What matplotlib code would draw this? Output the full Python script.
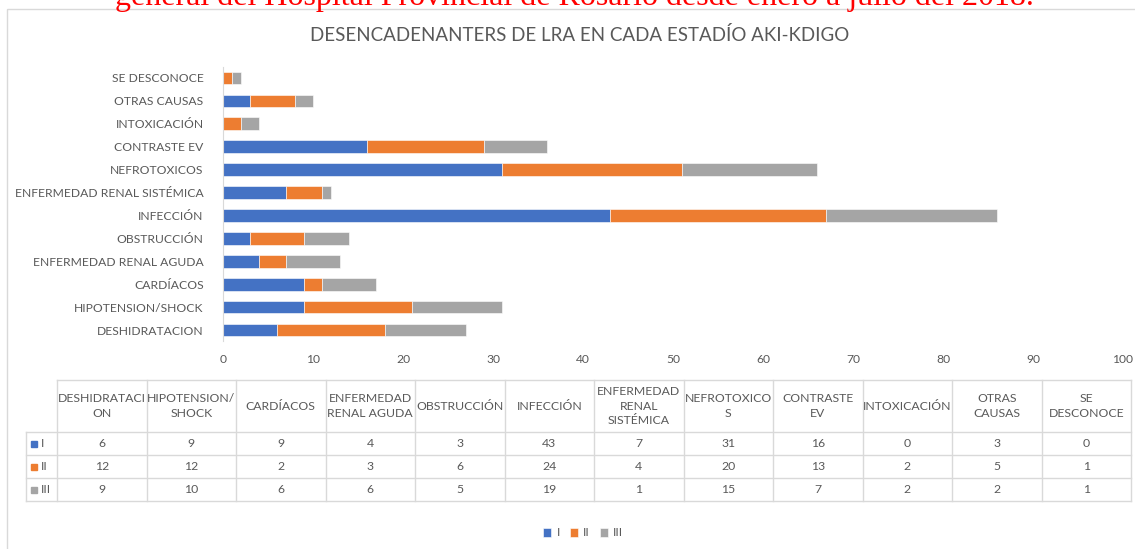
import numpy as np
import matplotlib.pyplot as plt

categories = ["DESHIDRATACION", "HIPOTENSION/SHOCK", "CARDÍACOS", "ENFERMEDAD RENAL AGUDA",
              "OBSTRUCCIÓN", "INFECCIÓN", "ENFERMEDAD RENAL SISTÉMICA", "NEFROTOXICOS",
              "CONTRASTE EV", "INTOXICACIÓN", "OTRAS CAUSAS", "SE DESCONOCE"]
tableHeaders = ["DESHIDRATACI\nON", "HIPOTENSION/\nSHOCK", "CARDÍACOS", "ENFERMEDAD\nRENAL AGUDA",
                "OBSTRUCCIÓN", "INFECCIÓN", "ENFERMEDAD\nRENAL\nSISTÉMICA", "NEFROTOXICO\nS",
                "CONTRASTE\nEV", "INTOXICACIÓN", "OTRAS\nCAUSAS", "SE\nDESCONOCE"]
stageNames = ["I", "II", "III"]
stageI = [6, 9, 9, 4, 3, 43, 7, 31, 16, 0, 3, 0]
stageII = [12, 12, 2, 3, 6, 24, 4, 20, 13, 2, 5, 1]
stageIII = [9, 10, 6, 6, 5, 19, 1, 15, 7, 2, 2, 1]
stageColors = ["#4472C4", "#ED7D31", "#A5A5A5"]
title = "DESENCADENANTERS DE LRA EN CADA ESTADÍO AKI-KDIGO"
caption = "general del Hospital Provincial de Rosario desde enero a julio del 2018."

W, H = 1135, 549
txtColor = "#595959"
lineColor = "#D9D9D9"
plt.rcParams["font.family"] = ["Lato", "DejaVu Sans"]

fig = plt.figure(figsize=(W / 100, H / 100), dpi=100)

# overlay in pixel coords for frame, table and legend
ov = fig.add_axes([0, 0, 1, 1], zorder=0)
ov.set_xlim(0, W)
ov.set_ylim(H, 0)
ov.axis("off")
ov.add_patch(plt.Rectangle((7, 9), W, H, fill=False, edgecolor=lineColor, lw=1))

# caption of the page above the chart, mostly cut off
fig.text(574 / W, 1 - 5.5 / H, caption, color="red", fontsize=23,
         family="Liberation Serif", ha="center", va="baseline")
fig.text(580 / W, 1 - 35 / H, title, color=txtColor, fontsize=13.5, ha="center", va="center")

# bar chart
ax = fig.add_axes([223 / W, 1 - 341.5 / H, 900 / W, 275 / H], zorder=1)
ax.patch.set_alpha(0)
y = np.arange(len(categories))
stages = [np.array(stageI), np.array(stageII), np.array(stageIII)]
left = np.zeros(len(categories))
for vals, col, name in zip(stages, stageColors, stageNames):
    ax.barh(y, vals, left=left, height=0.55, color=col, edgecolor="white", linewidth=0.4, label=name)
    left += vals
ax.set_xlim(0, 100)
ax.set_ylim(-0.5, len(categories) - 0.5)
ax.set_xticks(np.arange(0, 101, 10))
ax.set_yticks(y)
ax.set_yticklabels(categories)
ax.tick_params(length=0, labelsize=8.7, labelcolor=txtColor)
ax.tick_params(axis="y", pad=14)
ax.tick_params(axis="x", pad=9)
for s in ["top", "right", "bottom"]:
    ax.spines[s].set_visible(False)
ax.spines["left"].set_color(lineColor)

# data table
colX = np.linspace(57, 1131, len(categories) + 1)
hdrTop, hdrBot = 380, 432
rowY = [432, 455, 478, 501]
ov.plot([colX[0], colX[-1]], [hdrTop, hdrTop], color=lineColor, lw=1)
for x in colX:
    ov.plot([x, x], [hdrTop, rowY[-1]], color=lineColor, lw=1)
for r in rowY:
    ov.plot([26, colX[-1]], [r, r], color=lineColor, lw=1)
ov.plot([26, 26], [rowY[0], rowY[-1]], color=lineColor, lw=1)
for i, lab in enumerate(tableHeaders):
    ov.text((colX[i] + colX[i + 1]) / 2, (hdrTop + hdrBot) / 2, lab, ha="center", va="center",
            fontsize=8.8, color=txtColor, linespacing=1.4)
for r, (vals, col, name) in enumerate(zip(stages, stageColors, stageNames)):
    yc = (rowY[r] + rowY[r + 1]) / 2
    ov.add_patch(plt.Rectangle((31, yc - 3), 6, 6, color=col))
    ov.text(41, yc, name, ha="left", va="center", fontsize=8.8, color=txtColor)
    for i, v in enumerate(vals):
        ov.text((colX[i] + colX[i + 1]) / 2, yc, str(v), ha="center", va="center",
                fontsize=8.8, color=txtColor)

# legend
handles, labels = ax.get_legend_handles_labels()
fig.legend(handles, labels, loc="center", bbox_to_anchor=(583 / W, 1 - 533 / H), ncol=3,
           frameon=False, fontsize=8.8, labelcolor=txtColor, handlelength=0.7, handleheight=0.7,
           handletextpad=0.4, columnspacing=0.8)

fig.savefig("out.png", dpi=100)
